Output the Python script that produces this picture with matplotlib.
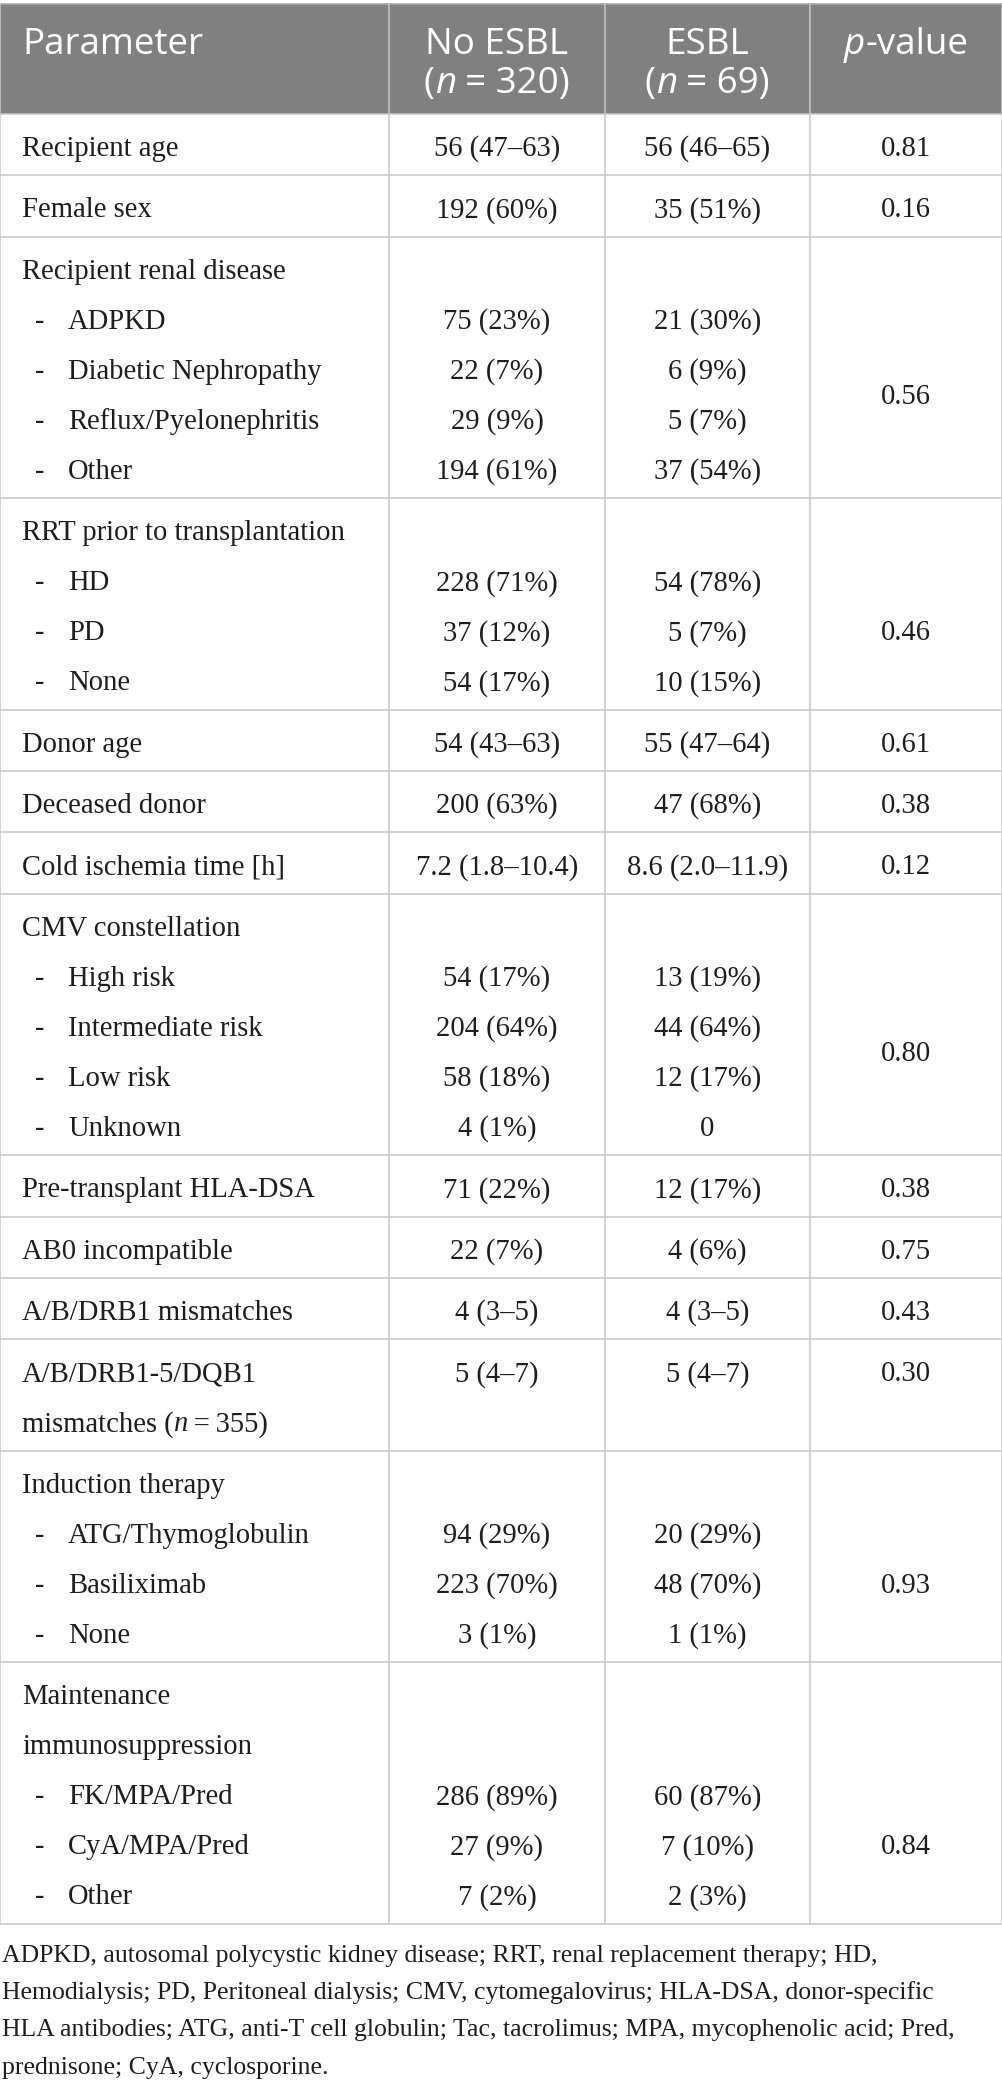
import matplotlib
matplotlib.use("Agg")
import matplotlib.pyplot as plt
from matplotlib.patches import Rectangle

# ---- table content ----
header_titles = ["Parameter", "No ESBL", "ESBL", "_p_-value"]
header_counts = ["", "(_n_ = 320)", "(_n_ = 69)", ""]

param_labels = [
    ["Recipient age"],
    ["Female sex"],
    ["Recipient renal disease"],
    ["RRT prior to transplantation"],
    ["Donor age"],
    ["Deceased donor"],
    ["Cold ischemia time [h]"],
    ["CMV constellation"],
    ["Pre-transplant HLA-DSA"],
    ["AB0 incompatible"],
    ["A/B/DRB1 mismatches"],
    ["A/B/DRB1-5/DQB1", "mismatches (_n_\u2009=\u2009355)"],
    ["Induction therapy"],
    ["Maintenance", "immunosuppression"],
]

sub_labels = [
    [], [],
    ["ADPKD", "Diabetic Nephropathy", "Reflux/Pyelonephritis", "Other"],
    ["HD", "PD", "None"],
    [], [], [],
    ["High risk", "Intermediate risk", "Low risk", "Unknown"],
    [], [], [], [],
    ["ATG/Thymoglobulin", "Basiliximab", "None"],
    ["FK/MPA/Pred", "CyA/MPA/Pred", "Other"],
]

no_esbl = [
    ["56 (47–63)"], ["192 (60%)"],
    ["75 (23%)", "22 (7%)", "29 (9%)", "194 (61%)"],
    ["228 (71%)", "37 (12%)", "54 (17%)"],
    ["54 (43–63)"], ["200 (63%)"], ["7.2 (1.8–10.4)"],
    ["54 (17%)", "204 (64%)", "58 (18%)", "4 (1%)"],
    ["71 (22%)"], ["22 (7%)"], ["4 (3–5)"], ["5 (4–7)"],
    ["94 (29%)", "223 (70%)", "3 (1%)"],
    ["286 (89%)", "27 (9%)", "7 (2%)"],
]

esbl = [
    ["56 (46–65)"], ["35 (51%)"],
    ["21 (30%)", "6 (9%)", "5 (7%)", "37 (54%)"],
    ["54 (78%)", "5 (7%)", "10 (15%)"],
    ["55 (47–64)"], ["47 (68%)"], ["8.6 (2.0–11.9)"],
    ["13 (19%)", "44 (64%)", "12 (17%)", "0"],
    ["12 (17%)"], ["4 (6%)"], ["4 (3–5)"], ["5 (4–7)"],
    ["20 (29%)", "48 (70%)", "1 (1%)"],
    ["60 (87%)", "7 (10%)", "2 (3%)"],
]

p_values = ["0.81", "0.16", "0.56", "0.46", "0.61", "0.38", "0.12",
            "0.80", "0.38", "0.75", "0.43", "0.30", "0.93", "0.84"]

footnote = [
    "ADPKD, autosomal polycystic kidney disease; RRT, renal replacement therapy; HD,",
    "Hemodialysis; PD, Peritoneal dialysis; CMV, cytomegalovirus; HLA-DSA, donor-specific",
    "HLA antibodies; ATG, anti-T cell globulin; Tac, tacrolimus; MPA, mycophenolic acid; Pred,",
    "prednisone; CyA, cyclosporine.",
]

# ---- layout / style ----
W, H = 1003, 2088
HEAD_FONT = ["Open Sans", "DejaVu Sans"]
BODY_FONT = ["Liberation Serif", "DejaVu Serif"]
HEAD_SIZE = 26.5
BODY_SIZE = 20.6
NOTE_SIZE = 18.5
HEAD_BG = "#808080"
GRID = "#c6c6c6"
INK = "#1e1e1e"

col_edges = [0.5, 389, 605, 810, 1002]
head_top, head_bottom = 4, 114
pad, pitch, first = 11.4, 50, 42

fig = plt.figure(figsize=(W / 100, H / 100), dpi=100)
ax = fig.add_axes([0, 0, 1, 1])
ax.set_xlim(0, W)
ax.set_ylim(H, 0)
ax.axis("off")
renderer = fig.canvas.get_renderer()


def split_runs(s):
    # text between underscores is italic
    parts = s.split("_")
    return [(p, "italic" if i % 2 else "normal") for i, p in enumerate(parts) if p]


def ink_width(s, family, size, style):
    t = ax.text(0, 0, s, family=family, fontsize=size, style=style)
    w = t.get_window_extent(renderer).width
    t.remove()
    return w


def advance(s, family, size, style):
    return ink_width("|" + s + "|", family, size, style) - ink_width("||", family, size, style)


def draw(x, y, s, family, size, color, ha="left"):
    runs = split_runs(s)
    widths = [advance(r, family, size, st) for r, st in runs]
    total = sum(widths)
    if ha == "center":
        x = x - total / 2
    for (r, st), w in zip(runs, widths):
        lead = len(r) - len(r.lstrip(" "))
        off = advance(" " * lead, family, size, st) if lead else 0
        ax.text(x + off, y, r.lstrip(" "), family=family, fontsize=size, style=st,
                color=color, ha="left", va="baseline")
        x += w


# header
ax.add_patch(Rectangle((col_edges[0], head_top), col_edges[-1] - col_edges[0],
                       head_bottom - head_top, facecolor=HEAD_BG, edgecolor="none"))
centers = [(col_edges[i] + col_edges[i + 1]) / 2 for i in range(4)]
draw(22, 54, header_titles[0], HEAD_FONT, HEAD_SIZE, "white")
for i in range(1, 4):
    draw(centers[i], 54, header_titles[i], HEAD_FONT, HEAD_SIZE, "white", ha="center")
    if header_counts[i]:
        draw(centers[i], 93, header_counts[i], HEAD_FONT, HEAD_SIZE, "white", ha="center")

# body rows
y = head_bottom
row_lines = [head_bottom]
for i in range(len(param_labels)):
    labels = param_labels[i]
    subs = sub_labels[i]
    n = len(labels) + len(subs)
    base = [y + first + pitch * k for k in range(n)]
    for k, lab in enumerate(labels):
        draw(22, base[k], lab, BODY_FONT, BODY_SIZE, INK)
    for k, lab in enumerate(subs):
        b = base[len(labels) + k]
        ax.text(35, b, "-", family=BODY_FONT, fontsize=BODY_SIZE, color=INK, va="baseline")
        draw(68, b, lab, BODY_FONT, BODY_SIZE, INK)
    val_rows = base[len(labels):] if subs else base[:1]
    for k, v in enumerate(no_esbl[i]):
        draw(centers[1], val_rows[k], v, BODY_FONT, BODY_SIZE, INK, ha="center")
    for k, v in enumerate(esbl[i]):
        draw(centers[2], val_rows[k], v, BODY_FONT, BODY_SIZE, INK, ha="center")
    p_y = (val_rows[0] + val_rows[-1]) / 2
    draw(centers[3], p_y, p_values[i], BODY_FONT, BODY_SIZE, INK, ha="center")
    y += pad + pitch * n
    row_lines.append(y)

table_bottom = row_lines[-1]
for yl in row_lines:
    ax.plot([col_edges[0], col_edges[-1]], [yl, yl], color=GRID, lw=1.1, solid_capstyle="butt")
ax.plot([col_edges[0], col_edges[-1]], [head_top, head_top], color="#a8a8a8", lw=1.1)
for xe in col_edges:
    ax.plot([xe, xe], [head_top, table_bottom], color=GRID, lw=1.1, solid_capstyle="butt")

# footnote
for k, line in enumerate(footnote):
    draw(2, table_bottom + 38 + 37.3 * k, line, BODY_FONT, NOTE_SIZE, INK)

fig.savefig("out.png", dpi=100)
